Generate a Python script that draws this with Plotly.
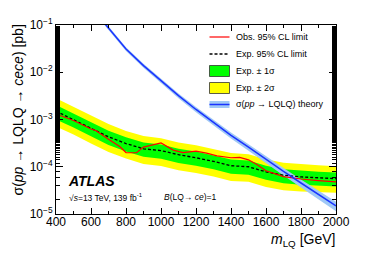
import plotly.graph_objects as go

# ---------------- data ----------------
exp_mass = [400, 500, 600, 700, 800, 900, 1000, 1100, 1200, 1300, 1400, 1500, 1600, 1700, 1800, 1900, 2000]
exp_lim = [1.5e-3, 1.0e-3, 6.5e-4, 4.3e-4, 3.1e-4, 2.4e-4, 2.2e-4, 1.8e-4, 1.55e-4, 1.3e-4, 1.05e-4, 1.0e-4, 7.8e-5, 6.6e-5, 6.1e-5, 5.8e-5, 5.6e-5]
green_hi = [2.03e-3, 1.35e-3, 8.8e-4, 5.8e-4, 4.2e-4, 3.25e-4, 2.95e-4, 2.4e-4, 2.1e-4, 1.75e-4, 1.42e-4, 1.35e-4, 1.05e-4, 8.9e-5, 8.2e-5, 7.8e-5, 7.6e-5]
green_lo = [1.0e-3, 6.8e-4, 4.4e-4, 2.9e-4, 2.1e-4, 1.63e-4, 1.48e-4, 1.2e-4, 1.05e-4, 8.8e-5, 7.1e-5, 6.8e-5, 5.3e-5, 4.5e-5, 4.15e-5, 3.95e-5, 3.8e-5]
yellow_hi = [2.8e-3, 1.85e-3, 1.2e-3, 8.0e-4, 5.7e-4, 4.45e-4, 4.0e-4, 3.25e-4, 2.85e-4, 2.4e-4, 1.95e-4, 1.85e-4, 1.45e-4, 1.22e-4, 1.13e-4, 1.07e-4, 1.03e-4]
yellow_lo = [7.1e-4, 4.8e-4, 3.1e-4, 2.05e-4, 1.5e-4, 1.15e-4, 1.04e-4, 8.4e-5, 7.4e-5, 6.2e-5, 5.0e-5, 4.8e-5, 3.75e-5, 3.2e-5, 3.0e-5, 2.9e-5, 2.8e-5]

obs_mass = [400, 500, 600, 625, 700, 766, 800, 860, 900, 950, 1000, 1070, 1125, 1200, 1260, 1320, 1400, 1450, 1500, 1550, 1600, 1700, 1800, 1900, 2000]
obs_lim = [1.31e-3, 9.5e-4, 6.3e-4, 5.9e-4, 3.8e-4, 2.65e-4, 2.0e-4, 1.98e-4, 2.6e-4, 2.85e-4, 3.2e-4, 2.25e-4, 2.0e-4, 2.15e-4, 1.95e-4, 1.7e-4, 1.55e-4, 1.58e-4, 1.4e-4, 1.1e-4, 8.2e-5, 6.2e-5, 5.5e-5, 5.1e-5, 4.8e-5]

th_mass = [600, 700, 800, 900, 1000, 1100, 1200, 1300, 1400, 1500, 1600, 1700, 1800, 1900, 2000]
th_xsec = [0.24, 0.085, 0.031, 0.0138, 0.0066, 0.0032, 0.00163, 0.000860, 0.000463, 0.000259, 0.000141, 7.94e-5, 4.53e-5, 2.60e-5, 1.48e-5]
th_lo = [0.22, 0.078, 0.0281, 0.0124, 0.0059, 0.00283, 0.00142, 0.000743, 0.000395, 0.000218, 0.000117, 6.5e-5, 3.65e-5, 2.05e-5, 1.15e-5]
th_hi = [0.26, 0.092, 0.034, 0.0152, 0.0073, 0.00357, 0.00184, 0.000975, 0.000531, 0.000300, 0.000165, 9.4e-5, 5.4e-5, 3.15e-5, 1.82e-5]

x_ticks = [400, 600, 800, 1000, 1200, 1400, 1600, 1800, 2000]
y_ticks = [1e-5, 1e-4, 1e-3, 1e-2, 1e-1]
y_tick_text = ["10<sup>\u22125</sup>", "10<sup>\u22124</sup>", "10<sup>\u22123</sup>", "10<sup>\u22122</sup>", "10<sup>\u22121</sup>"]

legend_labels = ["Obs. 95% CL limit", "Exp. 95% CL limit", "Exp. \u00b1 1\u03c3", "Exp. \u00b1 2\u03c3",
                 "\u03c3(<i>pp</i> \u2192 LQLQ) theory"]

# ---------------- style ----------------
FONT = "Liberation Sans, Arial, Helvetica, sans-serif"
W, H = 374, 253
L, R, T, B = 56, 336, 25, 214
YELLOW = "#ffff00"
GREEN = "#00ff00"
RED = "#ff0000"
BLUE = "#1a33ff"
LBLUE = "#9fc8f6"


def px(x):
    return (x - L) / (R - L)


def py(y):
    return (B - y) / (B - T)


fig = go.Figure()


def band(xs, lo, hi, color):
    fig.add_trace(go.Scatter(x=xs, y=lo, mode="lines", line=dict(width=0, color=color),
                             showlegend=False, hoverinfo="skip"))
    fig.add_trace(go.Scatter(x=xs, y=hi, mode="lines", line=dict(width=0, color=color),
                             fill="tonexty", fillcolor=color, showlegend=False, hoverinfo="skip"))


band(exp_mass, yellow_lo, yellow_hi, YELLOW)
band(exp_mass, green_lo, green_hi, GREEN)
band(th_mass, th_lo, th_hi, LBLUE)

fig.add_trace(go.Scatter(x=exp_mass, y=exp_lim, mode="lines",
                         line=dict(color="black", width=1.3, dash="3px,2px"), showlegend=False))
fig.add_trace(go.Scatter(x=obs_mass, y=obs_lim, mode="lines",
                         line=dict(color=RED, width=1.2), showlegend=False))
fig.add_trace(go.Scatter(x=th_mass, y=th_xsec, mode="lines",
                         line=dict(color=BLUE, width=1.5), showlegend=False))

fig.update_xaxes(range=[400, 2000], tickvals=x_ticks, ticks="inside", ticklen=6, tickwidth=1,
                 tickcolor="black", showline=True, linecolor="black", linewidth=1, mirror="allticks",
                 showgrid=False, zeroline=False, ticklabelstandoff=-3,
                 tickfont=dict(family=FONT, size=12, color="black"),
                 minor=dict(dtick=100, tick0=400, ticks="inside", ticklen=3, tickcolor="black", showgrid=False))
fig.update_yaxes(type="log", range=[-5, -1], tickvals=y_ticks, ticktext=y_tick_text,
                 ticks="inside", ticklen=7, tickwidth=1, tickcolor="black",
                 showline=True, linecolor="black", linewidth=1, mirror="allticks",
                 showgrid=False, zeroline=False,
                 tickfont=dict(family=FONT, size=12, color="black"),
                 minor=dict(ticks="inside", ticklen=4, tickcolor="black", showgrid=False))

shapes = []
ann = []
rows = [37, 54, 71, 88, 104.5]
sx0, sx1 = 209.5, 229.5
# legend symbols
shapes.append(dict(type="line", xref="paper", yref="paper", x0=px(sx0), x1=px(sx1),
                   y0=py(rows[0]), y1=py(rows[0]), line=dict(color=RED, width=1.2)))
shapes.append(dict(type="line", xref="paper", yref="paper", x0=px(sx0), x1=px(sx1),
                   y0=py(rows[1]), y1=py(rows[1]), line=dict(color="black", width=1.3, dash="3px,2px")))
for r, c in ((rows[2], GREEN), (rows[3], YELLOW)):
    shapes.append(dict(type="rect", xref="paper", yref="paper", x0=px(sx0), x1=px(sx1),
                       y0=py(r + 5.5), y1=py(r - 5.5), fillcolor=c, line=dict(color="#333333", width=0.8)))
shapes.append(dict(type="rect", xref="paper", yref="paper", x0=px(sx0), x1=px(sx1),
                   y0=py(rows[4] + 3.5), y1=py(rows[4] - 3.5), fillcolor=LBLUE, line=dict(width=0)))
shapes.append(dict(type="line", xref="paper", yref="paper", x0=px(sx0), x1=px(sx1),
                   y0=py(rows[4]), y1=py(rows[4]), line=dict(color=BLUE, width=1.5)))
for r, t in zip(rows, legend_labels):
    ann.append(dict(xref="paper", yref="paper", x=px(234), y=py(r), xanchor="left", yanchor="middle",
                    text=t, showarrow=False, font=dict(family=FONT, size=9, color="black")))

# ATLAS labels
ann.append(dict(xref="paper", yref="paper", x=px(66), y=py(181), xanchor="left", yanchor="middle",
                text="<b><i>ATLAS</i></b>", showarrow=False, font=dict(family=FONT, size=14, color="black")))
ann.append(dict(xref="paper", yref="paper", x=px(67), y=py(197), xanchor="left", yanchor="middle",
                text="\u221a<i>s</i>=13 TeV, 139 fb<sup>-1</sup>", showarrow=False,
                font=dict(family=FONT, size=8.5, color="black")))
ann.append(dict(xref="paper", yref="paper", x=px(162), y=py(197), xanchor="left", yanchor="middle",
                text="<i>B</i>(LQ\u2192 <i>ce</i>)=1", showarrow=False,
                font=dict(family=FONT, size=8.5, color="black")))
# axis titles
ann.append(dict(xref="paper", yref="paper", x=px(337), y=py(240), xanchor="right", yanchor="middle",
                text="<i>m</i><sub>LQ</sub> [GeV]", showarrow=False,
                font=dict(family=FONT, size=14, color="black")))
ann.append(dict(xref="paper", yref="paper", x=px(18), y=py(23), xanchor="center", yanchor="top",
                textangle=-90,
                text="\u03c3(<i>pp</i> \u2192 LQLQ \u2192 <i>cece</i>) [pb]", showarrow=False,
                font=dict(family=FONT, size=14, color="black")))

fig.update_layout(width=W, height=H, margin=dict(l=L, r=W - R, t=T, b=H - B, pad=0),
                  paper_bgcolor="white", plot_bgcolor="white", showlegend=False,
                  shapes=shapes, annotations=ann, font=dict(family=FONT, color="black"))

fig.write_html("out.html", config={"displayModeBar": False, "staticPlot": True},
               post_script="document.body.style.margin='0';document.body.style.padding='0';"
                           "document.body.style.overflow='hidden';")
